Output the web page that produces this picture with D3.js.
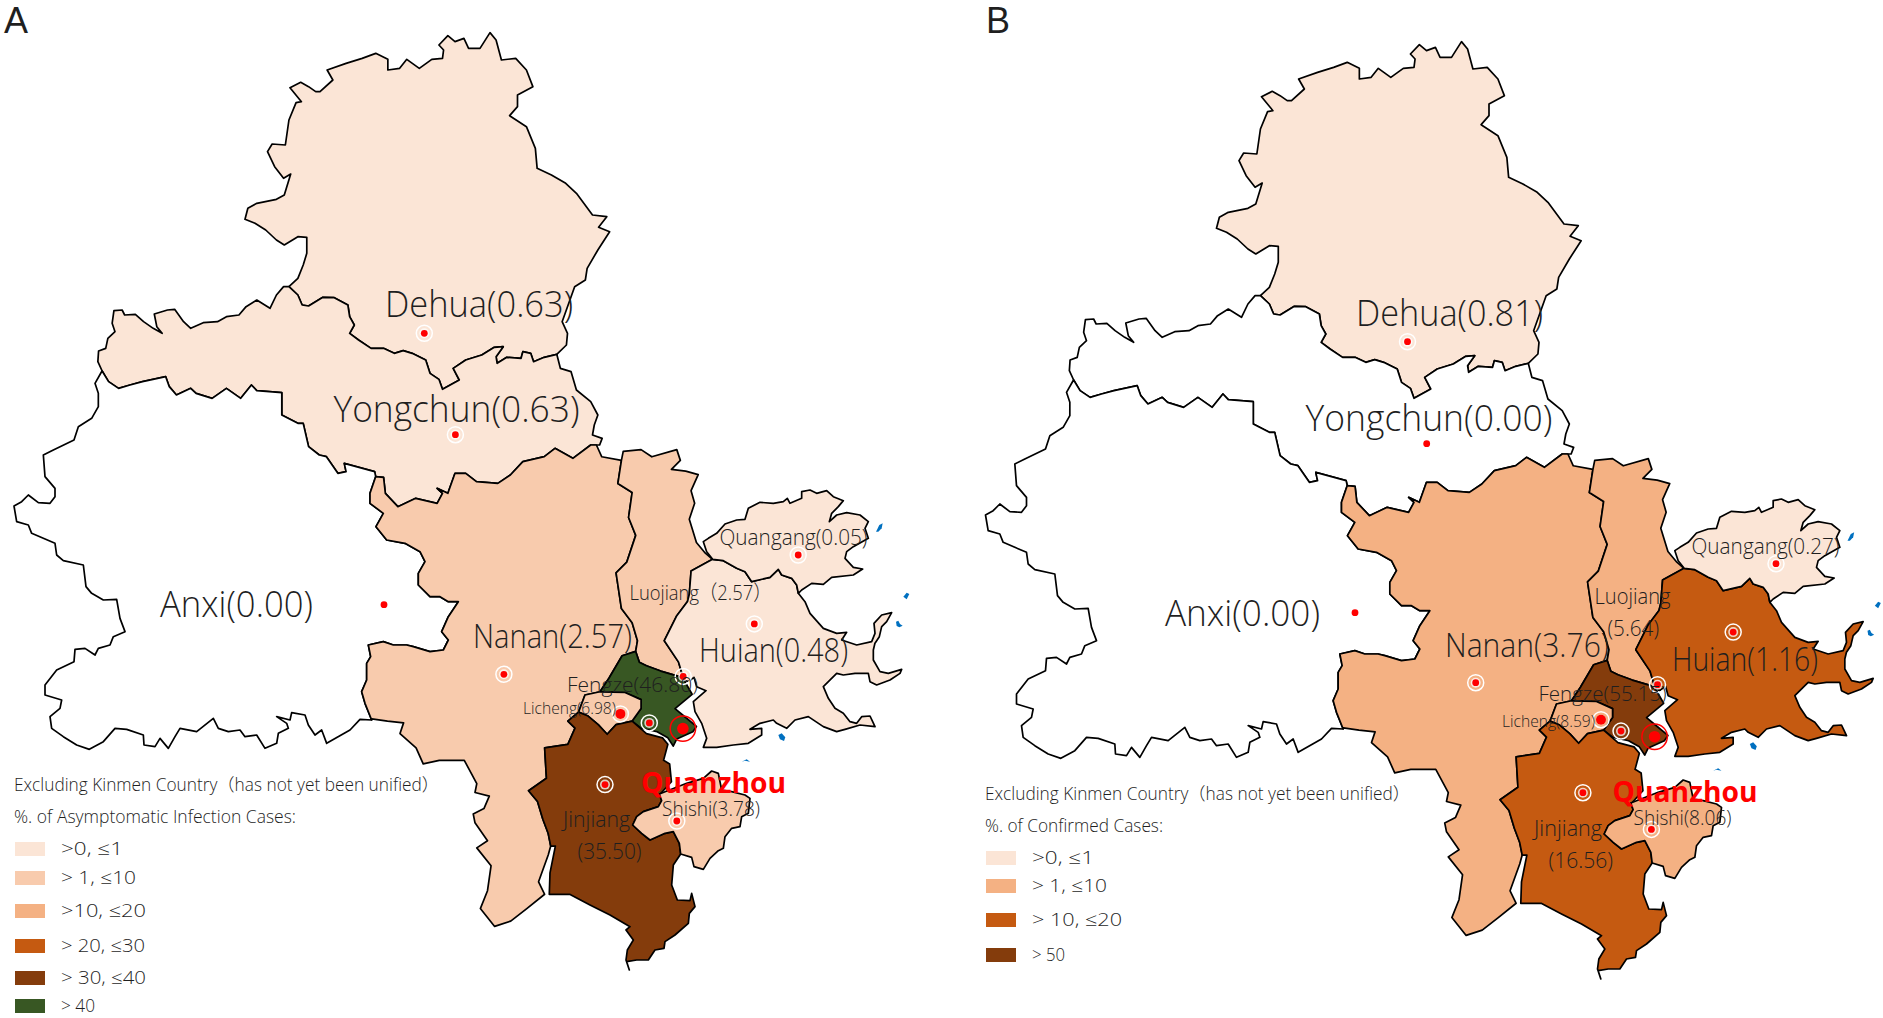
<!DOCTYPE html>
<html>
<head>
<meta charset="utf-8">
<script src="https://cdn.jsdelivr.net/npm/d3@7"></script>
<style>
  body { margin: 0; background: #fff; }
  text { font-family: "Open Sans", "Noto Sans CJK SC", sans-serif; font-weight: 300; fill: #1f1f1f; }
</style>
</head>
<body>
<svg id="main-svg" width="1883" height="1018"></svg>
<script>
// Districts and values (per cent of cases)
const districts = ['Dehua', 'Yongchun', 'Anxi', 'Nanan', 'Luojiang', 'Huian', 'Quangang', 'Fengze', 'Licheng', 'Jinjiang', 'Shishi'];
const asymptomaticPct = [0.63, 0.63, 0.00, 2.57, 2.57, 0.48, 0.05, 46.80, 6.98, 35.50, 3.78];
const confirmedPct = [0.81, 0.00, 0.00, 3.76, 5.64, 1.16, 0.27, 55.15, 8.59, 16.56, 8.06];

// Legend class of each district, -1 is no fill
const asymptomaticClass = [0, 0, -1, 1, 1, 0, 0, 5, 1, 4, 1];
const confirmedClass = [0, -1, -1, 1, 1, 2, 0, 3, 1, 2, 1];

const asymptomaticLegend = ['>0,  ≤1', '> 1,  ≤10', '>10,  ≤20', '> 20,  ≤30', '> 30,  ≤40', '> 40'];
const asymptomaticColors = ['#fbe5d6', '#f8cbad', '#f4b183', '#c55a11', '#843c0c', '#385723'];
const asymptomaticLegendWidth = [62, 75, 85, 84, 85, 34];
const confirmedLegend = ['>0,  ≤1', '> 1,  ≤10', '> 10,  ≤20', '> 50'];
const confirmedColors = ['#fbe5d6', '#f4b183', '#c55a11', '#843c0c'];
const confirmedLegendWidth = [62, 75, 90, 33];

// Boundaries, traced in working frames, see the scales below
const dehuaOuter = [[585,800],[610,775],[625,735],[635,700],[635,652],[610,650],[572,675],[550,660],[520,630],[490,610],[462,598],[470,565],[495,550],[550,538],[572,525],[590,462],[570,475],[545,440],[525,395],[538,372],[575,375],[585,300],[605,248],[620,245],[588,203],[618,187],[640,200],[660,215],[672,215],[708,180],[692,150],[745,130],[790,115],[828,100],[862,118],[862,150],[895,145],[915,118],[950,145],[985,118],[1015,115],[1018,90],[1005,75],[1030,47],[1050,65],[1075,55],[1088,85],[1120,85],[1148,38],[1165,60],[1180,120],[1220,115],[1250,150],[1268,200],[1225,225],[1225,260],[1203,287],[1250,320],[1275,385],[1280,445],[1320,465],[1360,490],[1390,520],[1435,585],[1475,590],[1452,622],[1483,635],[1450,690],[1420,745],[1415,780],[1385,800],[1350,905],[1365,940],[1362,975],[1335,1003]];
const dehuaSouth = [[1335,1003],[1300,1012],[1270,1025],[1262,1000],[1240,995],[1235,1015],[1195,1012],[1168,1030],[1165,1010],[1185,980],[1160,982],[1125,1005],[1080,1020],[1045,1045],[1062,1080],[1015,1108],[1005,1078],[980,1060],[968,1020],[930,1000],[905,992],[880,1000],[850,985],[815,985],[780,960],[755,940],[768,915],[755,890],[750,855],[712,833],[680,832],[640,858],[622,855],[610,825],[585,800]];
const yongNorth = [[585,800],[570,800],[550,825],[532,865],[495,840],[465,860],[445,885],[410,890],[385,905],[345,908],[310,925],[290,905],[265,868],[245,870],[208,882],[215,920],[230,940],[205,925],[178,905],[155,883],[125,885],[118,870],[95,872],[90,910],[98,935],[78,955],[72,985],[52,993],[50,1025],[62,1053]];
const yongAnxi = [[62,1053],[80,1085],[108,1105],[140,1095],[175,1085],[240,1070],[250,1100],[270,1125],[310,1105],[325,1120],[370,1135],[410,1105],[450,1135],[480,1095],[495,1112],[565,1118],[565,1185],[610,1210],[625,1210],[640,1280],[670,1305],[690,1310],[722,1360],[745,1355],[740,1330],[825,1355],[828,1370]];
const yongNanan = [[828,1370],[850,1372],[855,1420],[890,1460],[940,1435],[1000,1450],[1015,1420],[1000,1405],[1030,1420],[1050,1360],[1080,1360],[1110,1385],[1170,1390],[1205,1365],[1240,1325],[1300,1310],[1330,1285],[1380,1315],[1430,1275]];
const yongEast = [[1335,1003],[1345,1045],[1375,1055],[1390,1110],[1430,1145],[1450,1185],[1440,1215],[1435,1245],[1462,1255],[1455,1275],[1430,1275]];

const anxiWest = [[306,3],[285,40],[295,70],[295,110],[275,145],[235,170],[222,210],[160,240],[130,255],[135,320],[165,355],[165,380],[150,400],[115,398],[85,375],[65,395],[42,408],[50,455],[85,465],[95,490],[130,505],[165,520],[170,555],[190,572],[250,585],[258,650],[275,670],[310,690],[350,688],[360,745],[375,785],[340,800],[330,825],[295,835],[285,855],[255,835],[225,838],[222,875],[170,900],[135,945],[135,975],[185,990],[180,1015],[150,1040],[155,1075],[190,1100],[230,1125],[268,1138],[310,1115],[345,1075],[380,1078],[430,1095],[432,1125],[465,1130],[480,1105],[505,1135],[525,1100],[540,1075],[590,1085],[640,1045],[655,1075],[685,1085],[720,1080],[735,1100],[770,1095],[795,1135],[830,1120],[835,1090],[865,1075],[860,1060],[830,1040],[870,1050],[875,1028],[915,1035],[925,1065],[945,1095],[965,1080],[980,1120],[1050,1080],[1080,1048],[1115,1050]];
const nananWest = [[1127,320],[1110,370],[1110,400],[1150,430],[1128,470],[1160,510],[1215,520],[1260,545],[1275,575],[1255,610],[1255,645],[1290,680],[1320,680],[1345,695],[1375,695],[1345,740],[1325,785],[1345,810],[1330,840],[1290,845],[1240,830],[1220,825],[1180,825],[1150,815],[1105,825],[1112,860],[1100,880],[1100,930],[1085,965],[1095,1000],[1115,1050]];

const nananSouth = [[61,809],[105,815],[150,820],[140,850],[185,890],[205,935],[250,925],[320,925],[355,990],[350,1015],[390,1025],[375,1060],[345,1075],[350,1100],[385,1150],[355,1170],[395,1220],[385,1290],[365,1340],[405,1390],[450,1375],[495,1340],[545,1300]];
const nananTop = [[674,42],[690,42],[705,75],[760,85]];
const luoNanan = [[800,620],[805,590],[790,540],[760,500],[745,400],[775,370],[800,295],[780,245],[790,175],[750,150],[760,85]];
const nanFeng = [[800,620],[762,632],[725,695],[700,733]];
const nanLi = [[700,733],[658,742],[640,790]];
const nanJin = [[640,790],[610,815],[630,835],[610,880],[545,890],[550,975],[500,1010],[525,1040],[540,1090],[555,1130],[562,1165]];
const nanCoast = [[562,1165],[555,1190],[528,1265],[545,1300]];
const luoNorth = [[760,85],[765,60],[815,55],[845,75],[915,55],[925,85],[900,110],[940,115],[975,125],[955,170],[965,205],[950,250],[970,315],[995,345],[1015,362]];
const luoHuian = [[1015,362],[955,395],[950,460],[945,480],[915,520],[880,590],[920,650],[935,700]];
const luoFeng = [[800,620],[810,650],[830,660],[870,675],[920,690],[935,700]];
const fengEast = [[935,700],[958,740],[910,780],[940,805],[970,830],[960,845],[915,865],[905,885],[890,862],[860,845],[815,835],[790,815]];
const liFeng = [[700,733],[770,735],[815,755],[815,780],[790,815]];
const liJin = [[790,815],[745,825],[720,852],[695,825],[665,800],[640,790]];
const jinEast = [[790,815],[830,850],[875,862],[890,880],[878,925],[895,935],[900,985],[868,1020]];
const jinWestEnd = [[615,1300],[558,1300],[560,1240],[575,1165],[562,1165]];

const quanOuter = [[68,268],[50,245],[40,215],[55,205],[80,190],[105,162],[140,150],[165,148],[175,115],[210,97],[250,100],[280,95],[292,85],[300,100],[335,85],[335,65],[360,60],[380,70],[410,62],[430,80],[460,92],[445,110],[425,130],[418,155],[440,135],[470,128],[510,135],[535,155],[525,175],[535,205],[490,230],[470,245],[465,265],[490,292],[518,297],[490,315],[425,322],[400,343],[365,340],[335,360],[325,370]];
const huiNorth = [[68,268],[100,272],[140,295],[165,305],[185,335],[240,322],[265,298],[275,315],[305,325],[320,345],[325,370]];
const huiCapeNorth = [[325,370],[345,395],[360,430],[400,475],[440,490],[470,487],[455,510],[500,525],[545,515],[555,490],[552,460],[575,435],[605,428],[590,455],[575,470],[568,500],[555,520]];
const huiCapeSouth = [[585,9],[580,30],[580,60],[600,95],[625,100],[665,88],[660,100],[630,120],[590,135],[570,125],[565,100],[525,100],[490,105],[470,100],[430,140],[445,175],[465,205],[490,220],[510,245],[530,250],[545,230],[570,228],[578,245],[585,260],[540,255],[495,268],[470,275],[430,260],[385,230],[345,240],[320,265],[290,250],[280,240],[240,250],[210,268],[245,265],[245,285],[205,310],[160,315],[110,322],[70,322],[80,295],[65,250],[45,215],[40,185],[78,152],[50,140],[42,112],[25,125],[12,120]];

const jinShi = [[208,42],[215,62],[205,80],[160,95],[140,110],[128,135],[155,160],[180,180],[225,160],[250,155]];
const shiEast = [[250,155],[268,190],[272,222],[305,232],[312,260],[340,268],[360,235],[385,212],[400,205],[405,170],[425,145],[450,140],[455,110],[475,100],[480,55],[465,45],[425,35],[395,30],[385,-20],[365,-27],[340,-5],[290,10],[208,42]];
const jinSouth = [[250,155],[268,190],[272,222],[250,255],[245,315],[262,360],[300,362],[305,340],[315,380],[298,400],[295,430],[255,465],[225,485],[222,505],[195,510],[175,540],[140,540],[110,545],[118,570],[108,540],[112,510],[130,480],[108,450],[120,440],[60,405],[0,375]];

const isletsNorth = [
  [[558,185],[568,165],[578,160],[575,175],[565,185]],
  [[640,380],[650,368],[658,372],[650,388]],
  [[618,455],[625,452],[630,462],[638,467],[628,472],[620,468]]
];
const isletsSouth = [
  [[295,285],[305,280],[316,292],[312,303],[300,298]],
  [[185,365],[200,358],[210,365],[195,362]]
];

// City markers on the map, in panel A frame
const asymptomaticCities = [[424.3,333.3],[455.4,434.7],[384,604.7],[503.9,674.3],[683.2,676.4],[754.3,623.9],[798.2,555],[649.3,722.9],[620.4,713.9],[605,784.6],[676.8,821]];
const confirmedCities = [[436,332.7],[455.2,434.7],[383.5,603.7],[504.2,673.7],[686,675.7],[761.7,623.1],[804.5,554.7],[649.5,722.1],[629.5,710.7],[611.4,783.7],[679.9,820.4]];
const asymptomaticNoRing = ['Anxi'];
const confirmedNoRing = ['Anxi', 'Yongchun'];
const seatA = [682.9, 728.6];
const seatB = [683.1, 727.7];

// Label rows: district, part, left, baseline, width, font size
const asymptomaticLabels = [
  ['Dehua', 'full', 385, 317, 188, 36],
  ['Yongchun', 'full', 333.5, 421.7, 246, 36],
  ['Anxi', 'full', 160, 617, 153, 36],
  ['Nanan', 'full', 473, 648, 159, 33],
  ['Huian', 'full', 699, 662, 149, 33],
  ['Quangang', 'full', 719.5, 545, 148, 22],
  ['Luojiang', 'wide', 629.5, 599.5, 142, 21],
  ['Fengze', 'full', 567, 691.5, 131, 21],
  ['Licheng', 'full', 523, 714, 93, 15.5],
  ['Jinjiang', 'name', 563, 827, 67, 22],
  ['Jinjiang', 'value', 577.5, 858.5, 64, 22],
  ['Shishi', 'full', 662, 815.5, 98, 20]
];
const confirmedLabels = [
  ['Dehua', 'full', 1356, 326, 187, 36],
  ['Yongchun', 'full', 1305.5, 430.7, 247, 36],
  ['Anxi', 'full', 1165, 626, 155, 36],
  ['Nanan', 'full', 1445, 657, 164, 33],
  ['Huian', 'full', 1672, 671, 146, 33],
  ['Quangang', 'full', 1691.5, 554, 148, 22],
  ['Luojiang', 'name', 1594.5, 603.5, 76, 22],
  ['Luojiang', 'value', 1607.5, 636, 51.5, 22],
  ['Fengze', 'full', 1538.5, 701, 128, 21],
  ['Licheng', 'full', 1502, 726.7, 93, 15.5],
  ['Jinjiang', 'name', 1534, 836, 68, 22],
  ['Jinjiang', 'value', 1548.5, 868.3, 64.5, 22],
  ['Shishi', 'full', 1633.5, 825, 98, 20]
];

const svg = d3.select('#main-svg');

// Scales of the working frames into the map frame
const frame = (x0, kx, y0, ky) => {
  const sx = d3.scaleLinear().domain([0, 100]).range([x0, x0 + 100 / kx]);
  const sy = d3.scaleLinear().domain([0, 100]).range([y0, y0 + 100 / ky]);
  return pts => pts.map(p => [sx(p[0]), sy(p[1])]);
};
const north = frame(80, 2.8, 20, 3);
const west = frame(0, 3, 370, 3);
const south = frame(350, 2.8, 430, 2.8);
const bayNorth = frame(690, 3, 470, 3);
const bayEast = frame(680, 3, 640, 3);
const tip = frame(590, 3, 780, 3);
const rev = a => a.slice().reverse();

const rings = {
  Dehua: [...north(dehuaOuter), ...north(dehuaSouth)],
  Yongchun: [...north(yongNorth), ...north(yongAnxi), ...north(yongNanan), ...north(rev(yongEast)), ...north(dehuaSouth)],
  Anxi: [...west(anxiWest), ...west(rev(nananWest)), ...north(rev(yongAnxi))],
  Nanan: [...north(yongNanan), ...south(nananTop), ...south(rev(luoNanan)), ...south(nanFeng), ...south(nanLi), ...south(nanJin), ...south(nanCoast), ...south(rev(nananSouth)), ...west(rev(nananWest))],
  Luojiang: [...south(luoNorth), ...south(luoHuian), ...south(rev(luoFeng)), ...south(luoNanan)],
  Huian: [...bayNorth(huiNorth), ...bayNorth(huiCapeNorth), ...bayEast(huiCapeSouth), ...south(rev(luoHuian))],
  Quangang: [...bayNorth(quanOuter), ...bayNorth(rev(huiNorth))],
  Fengze: [...south(luoFeng), ...south(fengEast), ...south(rev(liFeng)), ...south(rev(nanFeng))],
  Licheng: [...south(rev(nanLi)), ...south(liFeng), ...south(liJin)],
  Jinjiang: [...south(rev(liJin)), ...south(jinEast), ...tip(jinShi), ...tip(jinSouth), ...south(jinWestEnd), ...south(rev(nanJin))],
  Shishi: [...tip(jinShi), ...tip(shiEast)]
};
const islets = [...isletsNorth.map(bayNorth), ...isletsSouth.map(bayEast)];

const polygon = ring => ({ type: 'Polygon', coordinates: [[...ring, ring[0]]] });

function labelText(name, part, values) {
  const v = values[districts.indexOf(name)].toFixed(2);
  if (part === 'name') return name;
  if (part === 'value') return `(${v})`;
  if (part === 'wide') return `${name}（${v}）`;
  return `${name}(${v})`;
}

function drawPanel(p) {
  const g = svg.append('g');
  const projection = d3.geoIdentity().translate([p.dx, p.dy]);
  const path = d3.geoPath(projection);

  g.selectAll('path.district')
    .data(districts)
    .enter()
    .append('path')
    .attr('class', 'district')
    .attr('d', d => path(polygon(rings[d])))
    .attr('fill', (d, i) => p.classes[i] < 0 ? '#fff' : p.colors[p.classes[i]])
    .attr('stroke', '#000')
    .attr('stroke-width', 1.7)
    .attr('stroke-linejoin', 'round');

  g.selectAll('path.islet')
    .data(islets)
    .enter()
    .append('path')
    .attr('class', 'islet')
    .attr('d', d => path(polygon(d)))
    .attr('fill', '#0070c0');

  // City markers: two white rings round a red dot
  const cities = p.cities.map((c, i) => ({ name: districts[i], at: projection(c) }));
  const ringed = cities.filter(c => !p.noRing.includes(c.name));
  g.selectAll('circle.outer')
    .data(ringed)
    .enter()
    .append('circle')
    .attr('class', 'outer')
    .attr('cx', d => d.at[0])
    .attr('cy', d => d.at[1])
    .attr('r', 8)
    .attr('fill', 'none')
    .attr('stroke', '#fff')
    .attr('stroke-width', 1.5);
  g.selectAll('circle.inner')
    .data(ringed)
    .enter()
    .append('circle')
    .attr('class', 'inner')
    .attr('cx', d => d.at[0])
    .attr('cy', d => d.at[1])
    .attr('r', 5)
    .attr('fill', '#fff')
    .attr('fill-opacity', 0.75);
  g.selectAll('circle.dot')
    .data(cities)
    .enter()
    .append('circle')
    .attr('class', 'dot')
    .attr('cx', d => d.at[0])
    .attr('cy', d => d.at[1])
    .attr('r', d => d.name === 'Licheng' ? 5 : 3.4)
    .attr('fill', '#f00');

  const seat = projection(p.seat);
  g.append('circle').attr('cx', seat[0]).attr('cy', seat[1]).attr('r', 5.8).attr('fill', '#f00');
  g.append('circle').attr('cx', seat[0]).attr('cy', seat[1]).attr('r', 12.7)
    .attr('fill', 'none').attr('stroke', '#f00').attr('stroke-width', 1.5);

  // District labels
  g.selectAll('text.label')
    .data(p.labels)
    .enter()
    .append('text')
    .attr('class', 'label')
    .attr('x', d => d[2])
    .attr('y', d => d[3])
    .attr('textLength', d => d[4])
    .attr('lengthAdjust', 'spacingAndGlyphs')
    .attr('font-size', d => d[5])
    .text(d => labelText(d[0], d[1], p.values));

  g.append('text')
    .attr('x', 641 + p.dx)
    .attr('y', 792.5 + p.dy)
    .attr('textLength', 145)
    .attr('lengthAdjust', 'spacingAndGlyphs')
    .attr('font-size', 29)
    .style('font-weight', 700)
    .style('fill', '#f00')
    .text('Quanzhou');

  g.append('text')
    .attr('x', p.letterX)
    .attr('y', 33)
    .attr('font-size', 36)
    .style('font-family', '"Liberation Sans", sans-serif')
    .style('font-weight', 400)
    .text(p.letter);

  // Legend
  g.append('text').attr('x', p.legendX).attr('y', 791 + p.legendDy).attr('textLength', 425)
    .attr('lengthAdjust', 'spacingAndGlyphs').attr('font-size', 17.5)
    .text('Excluding Kinmen Country（has not yet been unified）');
  g.append('text').attr('x', p.legendX).attr('y', 822.7 + p.legendDy).attr('textLength', p.titleWidth)
    .attr('lengthAdjust', 'spacingAndGlyphs').attr('font-size', 17.5)
    .text(p.legendTitle);

  const rows = g.selectAll('g.key')
    .data(p.legend)
    .enter()
    .append('g')
    .attr('class', 'key');
  rows.append('rect')
    .attr('x', p.legendX + 1)
    .attr('y', (d, i) => p.rowTop[i])
    .attr('width', 30)
    .attr('height', 14)
    .attr('fill', (d, i) => p.colors[i]);
  rows.append('text')
    .attr('x', p.legendX + 47)
    .attr('y', (d, i) => p.rowTop[i] + 13)
    .attr('textLength', (d, i) => p.legendWidth[i])
    .attr('lengthAdjust', 'spacingAndGlyphs')
    .attr('font-size', 18)
    .text(d => d);
}

drawPanel({
  letter: 'A', letterX: 4, dx: 0, dy: 0,
  values: asymptomaticPct, classes: asymptomaticClass,
  colors: asymptomaticColors, legend: asymptomaticLegend, legendWidth: asymptomaticLegendWidth,
  legendTitle: '%. of Asymptomatic Infection Cases:', titleWidth: 282,
  cities: asymptomaticCities, noRing: asymptomaticNoRing, seat: seatA,
  labels: asymptomaticLabels,
  legendX: 14, legendDy: 0, rowTop: [842, 871, 904, 939, 971, 999]
});
drawPanel({
  letter: 'B', letterX: 986, dx: 971.5, dy: 9,
  values: confirmedPct, classes: confirmedClass,
  colors: confirmedColors, legend: confirmedLegend, legendWidth: confirmedLegendWidth,
  legendTitle: '%. of Confirmed Cases:', titleWidth: 178,
  cities: confirmedCities, noRing: confirmedNoRing, seat: seatB,
  labels: confirmedLabels,
  legendX: 985, legendDy: 9, rowTop: [851, 879, 913, 948]
});
</script>
</body>
</html>
